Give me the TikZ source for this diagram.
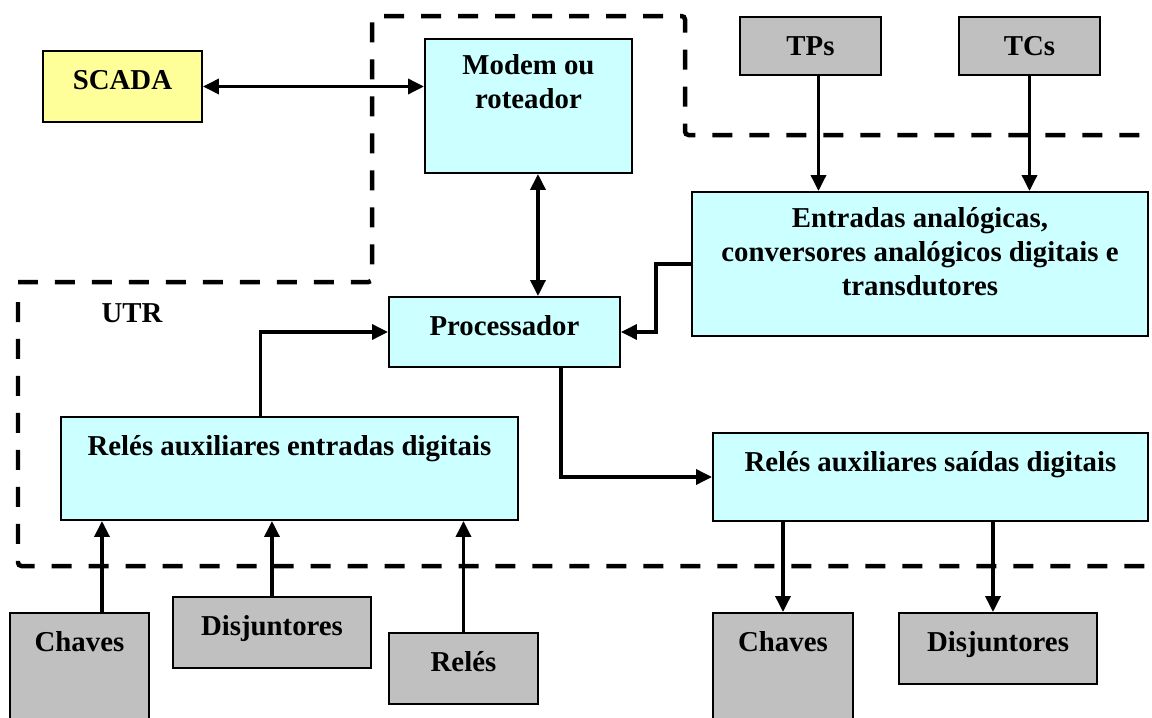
\documentclass[tikz,border=0pt]{standalone}
\usepackage{fontspec}
\setmainfont{Liberation Serif}
\usepackage{xcolor}
\usetikzlibrary{arrows.meta}

\definecolor{utrcyan}{HTML}{CCFFFF}
\definecolor{scadayellow}{HTML}{FFFF99}
\definecolor{fieldgray}{HTML}{C0C0C0}

\begin{document}
\begin{tikzpicture}[x=0.02cm, y=-0.02cm,
    unit/.style={draw, line width=0.04cm, inner sep=0pt, anchor=north west, fill=utrcyan},
    device/.style={unit, fill=fieldgray},
    txt/.style={inner sep=0pt, align=center, font=\bfseries\fontsize{16.4}{19.3}\selectfont},
    head/.style={txt, anchor=north, yshift=-9pt, execute at begin node={\rule{0pt}{13pt}}},
    wire/.style={line width=0.07cm, -{Triangle[length=0.32cm, width=0.3cm]}},
    biwire/.style={wire, {Triangle[length=0.32cm, width=0.3cm]}-{Triangle[length=0.32cm, width=0.3cm]}},
    zone/.style={line width=0.09cm, dash pattern=on 0.4cm off 0.34cm, rounded corners=2pt}]
    \clip (0,0) rectangle (1152,717);
    \draw[zone] (18,282) -- (372,282) -- (372,16) -- (685,16) -- (685,135) -- (1160,135);
    \draw[zone] (18,302) -- (18,566) -- (1160,566);
    \node[txt, anchor=base] (utr) at (132,322) {UTR};

    \node[unit, fill=scadayellow, minimum width=3.18cm, minimum height=1.42cm,
        label={[head]north:SCADA}] (scada) at (42,50) {};
    \node[unit, minimum width=4.14cm, minimum height=2.68cm,
        label={[head]north:{Modem ou\\roteador}}] (modem) at (424,38) {};
    \node[device, minimum width=2.82cm, minimum height=1.16cm, label={[head]north:TPs}] (tp) at (739,16) {};
    \node[device, minimum width=2.82cm, minimum height=1.16cm, label={[head]north:TCs}] (tc) at (958,16) {};
    \node[unit, minimum width=9.12cm, minimum height=2.88cm,
        label={[head]north:{Entradas analógicas,\\conversores analógicos digitais e\\transdutores}}] (ana) at (691,191) {};
    \node[unit, minimum width=4.62cm, minimum height=1.40cm, label={[head]north:Processador}] (proc) at (388,296) {};
    \node[unit, minimum width=9.14cm, minimum height=2.06cm,
        label={[head]north:Relés auxiliares entradas digitais}] (rin) at (60,416) {};
    \node[unit, minimum width=8.70cm, minimum height=1.76cm,
        label={[head]north:Relés auxiliares saídas digitais}] (rout) at (712,432) {};
    \node[device, minimum width=2.78cm, minimum height=2.60cm, label={[head]north:Chaves}] (chvL) at (9,612) {};
    \node[device, minimum width=3.96cm, minimum height=1.42cm, label={[head]north:Disjuntores}] (djL) at (172,596) {};
    \node[device, minimum width=2.98cm, minimum height=1.42cm, label={[head]north:Relés}] (rel) at (388,632) {};
    \node[device, minimum width=2.80cm, minimum height=2.60cm, label={[head]north:Chaves}] (chvR) at (712,612) {};
    \node[device, minimum width=3.96cm, minimum height=1.42cm, label={[head]north:Disjuntores}] (djR) at (898,612) {};

    \draw[biwire] (scada.east) -- (scada.east -| modem.west);
    \draw[biwire] ([xshift=0.19cm]modem.south) -- ([xshift=0.19cm]modem.south |- proc.north);
    \draw[wire] ([xshift=0.16cm]tp.south) -- ([xshift=0.16cm]tp.south |- ana.north);
    \draw[wire] (tc.south) -- (tc.south |- ana.north);
    \draw[wire] (ana.west) -- ++(-35,0) |- (proc.east);
    \draw[wire] ([xshift=-0.58cm]rin.north) |- (proc.west);
    \draw[wire] ([xshift=1.13cm]proc.south) |- (rout.west);
    \draw[wire] ([xshift=0.45cm]chvL.north) -- ([xshift=0.45cm]chvL.north |- rin.south);
    \draw[wire] (djL.north) -- (djL.north |- rin.south);
    \draw[wire] (rel.north) -- (rel.north |- rin.south);
    \draw[wire] (rout.south -| chvR.north) -- (chvR.north);
    \draw[wire] ([xshift=-0.1cm]rout.south -| djR.north) -- ([xshift=-0.1cm]djR.north);
\end{tikzpicture}
\end{document}
